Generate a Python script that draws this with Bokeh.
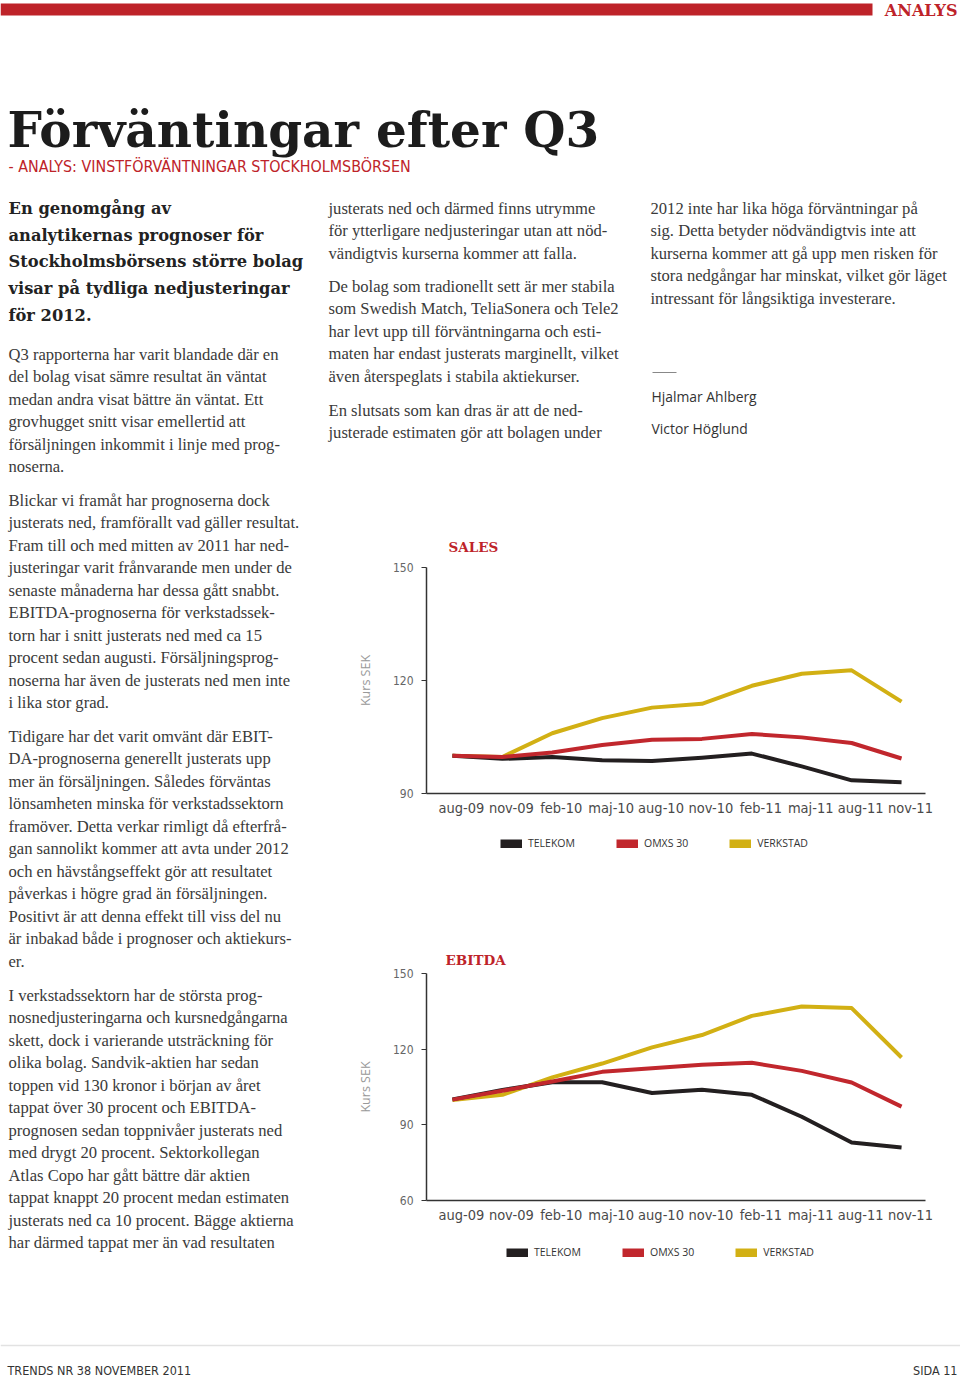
from bokeh.plotting import figure
from bokeh.models import Range1d, FixedTicker, Legend, LegendItem, ColumnDataSource
from bokeh.layouts import column, row
from bokeh.transform import dodge
from bokeh.embed import file_html
from bokeh.resources import INLINE
from bokeh.core.properties import value

# ---------------- data ----------------
months = ["aug-09", "nov-09", "feb-10", "maj-10", "aug-10",
          "nov-10", "feb-11", "maj-11", "aug-11", "nov-11"]
series_names = ["TELEKOM", "OMXS 30", "VERKSTAD"]

sales_telekom = [100.0, 99.2, 99.7, 98.8, 98.6, 99.5, 100.6, 97.2, 93.5, 93.0]
sales_omxs = [100.0, 99.7, 100.9, 102.9, 104.3, 104.5, 105.8, 104.9, 103.4, 99.3]
sales_verkstad = [100.0, 99.7, 106.0, 110.0, 112.8, 113.8, 118.6, 121.8, 122.7, 114.4]

ebitda_telekom = [100.1, 103.8, 106.9, 106.9, 102.6, 103.9, 101.9, 93.2, 83.0, 81.0]
ebitda_omxs = [100.0, 103.5, 107.2, 111.0, 112.4, 113.8, 114.6, 111.4, 106.8, 97.2]
ebitda_verkstad = [99.8, 101.9, 108.8, 114.3, 120.7, 125.6, 133.2, 136.9, 136.3, 116.7]

sales_ticks = [90, 120, 150]
ebitda_ticks = [60, 90, 120, 150]

# ---------------- texts ----------------
header_label = "ANALYS"
page_title = "Förväntingar efter Q3"
subheading = "- ANALYS: VINSTFÖRVÄNTNINGAR STOCKHOLMSBÖRSEN"
lead_lines = ["En genomgång av", "analytikernas prognoser för",
              "Stockholmsbörsens större bolag", "visar på tydliga nedjusteringar",
              "för 2012."]
col1_p1 = ["Q3 rapporterna har varit blandade där en",
           "del bolag visat sämre resultat än väntat",
           "medan andra visat bättre än väntat. Ett",
           "grovhugget snitt visar emellertid att",
           "försäljningen inkommit i linje med prog-",
           "noserna."]
col1_p2 = ["Blickar vi framåt har prognoserna dock",
           "justerats ned, framförallt vad gäller resultat.",
           "Fram till och med mitten av 2011 har ned-",
           "justeringar varit frånvarande men under de",
           "senaste månaderna har dessa gått snabbt.",
           "EBITDA-prognoserna för verkstadssek-",
           "torn har i snitt justerats ned med ca 15",
           "procent sedan augusti. Försäljningsprog-",
           "noserna har även de justerats ned men inte",
           "i lika stor grad."]
col1_p3 = ["Tidigare har det varit omvänt där EBIT-",
           "DA-prognoserna generellt justerats upp",
           "mer än försäljningen. Således förväntas",
           "lönsamheten minska för verkstadssektorn",
           "framöver. Detta verkar rimligt då efterfrå-",
           "gan sannolikt kommer att avta under 2012",
           "och en hävstångseffekt gör att resultatet",
           "påverkas i högre grad än försäljningen.",
           "Positivt är att denna effekt till viss del nu",
           "är inbakad både i prognoser och aktiekurs-",
           "er."]
col1_p4 = ["I verkstadssektorn har de största prog-",
           "nosnedjusteringarna och kursnedgångarna",
           "skett, dock i varierande utsträckning för",
           "olika bolag. Sandvik-aktien har sedan",
           "toppen vid 130 kronor i början av året",
           "tappat över 30 procent och EBITDA-",
           "prognosen sedan toppnivåer justerats ned",
           "med drygt 20 procent. Sektorkollegan",
           "Atlas Copo har gått bättre där aktien",
           "tappat knappt 20 procent medan estimaten",
           "justerats ned ca 10 procent. Bägge aktierna",
           "har därmed tappat mer än vad resultaten"]
col2_p1 = ["justerats ned och därmed finns utrymme",
           "för ytterligare nedjusteringar utan att nöd-",
           "vändigtvis kurserna kommer att falla."]
col2_p2 = ["De bolag som tradionellt sett är mer stabila",
           "som Swedish Match, TeliaSonera och Tele2",
           "har levt upp till förväntningarna och esti-",
           "maten har endast justerats marginellt, vilket",
           "även återspeglats i stabila aktiekurser."]
col2_p3 = ["En slutsats som kan dras är att de ned-",
           "justerade estimaten gör att bolagen under"]
col3_p1 = ["2012 inte har lika höga förväntningar på",
           "sig. Detta betyder nödvändigtvis inte att",
           "kurserna kommer att gå upp men risken för",
           "stora nedgångar har minskat, vilket gör läget",
           "intressant för långsiktiga investerare."]
authors = ["Hjalmar Ahlberg", "Victor Höglund"]
footer_left = "TRENDS NR 38 NOVEMBER 2011"
footer_right = "SIDA 11"

# ---------------- styles ----------------
RED = "#be2329"
BLACK_LINE = "#231f20"
RED_LINE = "#c1272d"
GOLD_LINE = "#d2b014"
BODY = "#3a3a3a"
NARROW_FACE = "DejaVu Sans Condensed, Roboto Condensed, Liberation Sans Narrow, Roboto, sans-serif"
SERIF = value("Liberation Serif")
SLAB = value("DejaVu Serif")
NARROW = value(NARROW_FACE)
SANS = value("Open Sans")
BODY_SIZE = "16.6px"
LH = 22.45


def page_fig(w, h, x0, y0):
    p = figure(width=w, height=h, x_range=Range1d(x0, x0 + w),
               y_range=Range1d(y0 + h, y0), x_axis_type=None, y_axis_type=None,
               output_backend="svg", toolbar_location=None, min_border=0)
    p.grid.visible = False
    p.outline_line_color = None
    return p


def para(p, lines, x, y0, lh=LH, font=SERIF, size=BODY_SIZE, color=BODY, style="normal"):
    p.text(x=[x] * len(lines), y=[y0 + i * lh for i in range(len(lines))], text=lines,
           text_font=font, text_font_size=size, text_color=color,
           text_font_style=style, text_baseline="middle", text_align="left")


# ---------------- top block (page y 0..480) ----------------
top = page_fig(960, 480, 0, 0)
top.quad(left=[0], right=[872], top=[3], bottom=[15], fill_color=RED, line_color=None)
top.text(x=[957], y=[10], text=[header_label], text_font=SLAB, text_font_style="bold",
         text_font_size="16px", text_color=RED, text_align="right", text_baseline="middle")
top.text(x=[7], y=[129], text=[page_title], text_font=SLAB, text_font_style="bold",
         text_font_size="48.5px", text_color="#1c1c1c", text_align="left",
         text_baseline="alphabetic")
top.text(x=[8], y=[166], text=[subheading], text_font=NARROW, text_font_size="15.9px",
         text_color=RED, text_align="left", text_baseline="middle")
para(top, lead_lines, 8, 208, lh=26.7, font=SLAB, size="16.3px", color="#222222", style="bold")
para(top, col1_p1, 8, 354)
para(top, col2_p1, 328, 208)
para(top, col2_p2, 328, 286)
para(top, col2_p3, 328, 410)
para(top, col3_p1, 650, 208)
top.segment(x0=[652], x1=[676], y0=[372], y1=[372], line_color="#888888", line_width=1)
para(top, authors, 651, 396, lh=32, font=SANS, size="13.9px", color="#333333")

# ---------------- left column (page y 480..1262) ----------------
left = page_fig(353, 782, 0, 480)
para(left, col1_p2, 8, 500)
para(left, col1_p3, 8, 736)
para(left, col1_p4, 8, 995)


# ---------------- charts ----------------
def make_source(tel, omx, ver):
    return ColumnDataSource(dict(idx=list(range(len(months))), tel=tel, omx=omx, ver=ver))


def chart(title, src, ticks, height, top_b, bottom_b, left_b, right_b,
          title_off, title_standoff):
    p = figure(width=607, height=height, x_range=Range1d(-0.70, 9.30),
               y_range=Range1d(ticks[0], ticks[-1]), output_backend="svg",
               toolbar_location=None, min_border_left=left_b, min_border_right=right_b,
               min_border_top=top_b, min_border_bottom=bottom_b)
    p.grid.visible = False
    p.outline_line_color = None
    p.title.text = title
    p.title.text_font = "DejaVu Serif"
    p.title.text_font_style = "bold"
    p.title.text_font_size = "13.5px"
    p.title.text_color = RED
    p.title.offset = title_off
    p.title.standoff = title_standoff

    xs = dodge("idx", -0.18)
    p.line(x=xs, y="ver", source=src, line_color=GOLD_LINE, line_width=4, line_join="round")
    p.line(x=xs, y="tel", source=src, line_color=BLACK_LINE, line_width=4, line_join="round")
    p.line(x=xs, y="omx", source=src, line_color=RED_LINE, line_width=4, line_join="round")

    xa = p.xaxis[0]
    xa.ticker = FixedTicker(ticks=list(range(len(months))))
    xa.major_label_overrides = {i: m for i, m in enumerate(months)}
    xa.major_tick_line_color = None
    xa.minor_tick_line_color = None
    xa.axis_line_color = "#333333"
    xa.axis_line_width = 1.5
    xa.major_label_standoff = 0
    xa.major_label_text_font = NARROW_FACE
    xa.major_label_text_font_size = "14.5px"
    xa.major_label_text_color = "#4a4a4a"

    ya = p.yaxis[0]
    ya.ticker = FixedTicker(ticks=ticks)
    ya.major_tick_out = 5
    ya.major_tick_in = 0
    ya.major_tick_line_color = "#333333"
    ya.minor_tick_line_color = None
    ya.axis_line_color = "#333333"
    ya.axis_line_width = 1.5
    ya.major_label_standoff = 8
    ya.major_label_text_font = NARROW_FACE
    ya.major_label_text_font_size = "12px"
    ya.major_label_text_color = "#666666"
    ya.axis_label = "Kurs SEK"
    ya.axis_label_text_font = "Open Sans"
    ya.axis_label_text_font_style = "normal"
    ya.axis_label_text_font_size = "12.5px"
    ya.axis_label_text_color = "#999999"
    ya.axis_label_standoff = 16
    return p


def legend_strip(src, height, legend_x, legend_y):
    # hidden copies of the series: only their legend swatches are shown
    lf = figure(width=607, height=height, x_range=Range1d(0, 1), y_range=Range1d(0, 1),
                x_axis_type=None, y_axis_type=None, output_backend="svg",
                toolbar_location=None, min_border=0)
    lf.grid.visible = False
    lf.outline_line_color = None
    rs = []
    for col, c in (("tel", BLACK_LINE), ("omx", RED_LINE), ("ver", GOLD_LINE)):
        r = lf.line(x="idx", y=col, source=src, line_color=c, line_width=9,
                    line_cap="butt")
        r.visible = False
        rs.append(r)
    leg = Legend(items=[LegendItem(label=n, renderers=[r]) for n, r in zip(series_names, rs)],
                 orientation="horizontal", location=(legend_x, legend_y),
                 glyph_width=22, glyph_height=9, label_height=14, label_standoff=6,
                 spacing=41, padding=0, margin=0, border_line_color=None,
                 background_fill_alpha=0, label_text_font="Open Sans",
                 label_text_font_size="10.5px", label_text_color="#333333")
    lf.add_layout(leg)
    return lf


sales_src = make_source(sales_telekom, sales_omxs, sales_verkstad)
ebitda_src = make_source(ebitda_telekom, ebitda_omxs, ebitda_verkstad)

sales = chart("SALES", sales_src, sales_ticks,
              height=345, top_b=87, bottom_b=32, left_b=72, right_b=33,
              title_off=22, title_standoff=26)
sales_legend = legend_strip(sales_src, 77, 74, 52)
ebitda = chart("EBITDA", ebitda_src, ebitda_ticks,
               height=328, top_b=71, bottom_b=30, left_b=70, right_b=35,
               title_off=19, title_standoff=11)
ebitda_legend = legend_strip(ebitda_src, 32, 80, 3)

# ---------------- footer (page y 1262..1377) ----------------
footer = page_fig(960, 115, 0, 1262)
footer.segment(x0=[0], x1=[960], y0=[1345], y1=[1345], line_color="#e2e2e2", line_width=1.5)
footer.text(x=[7], y=[1370], text=[footer_left], text_font=NARROW, text_font_size="12.5px",
            text_color="#333333", text_align="left", text_baseline="middle")
footer.text(x=[957], y=[1370], text=[footer_right], text_font=NARROW, text_font_size="12.5px",
            text_color="#333333", text_align="right", text_baseline="middle")

layout = column(top, row(left, column(sales, sales_legend, ebitda, ebitda_legend)), footer)
open("out.html", "w").write(file_html(layout, INLINE))
